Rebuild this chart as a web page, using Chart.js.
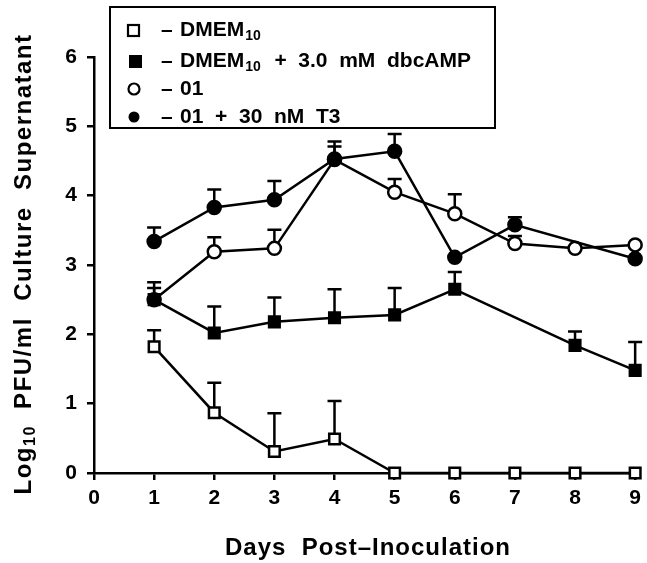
<!DOCTYPE html>
<html><head><meta charset="utf-8">
<script src="https://cdn.jsdelivr.net/npm/chart.js@4.4.1/dist/chart.umd.min.js"></script>
<style>html,body{margin:0;padding:0;background:#fff}#wrap{width:647px;height:563px}</style>
</head><body><div id="wrap"><canvas id="c" width="647" height="563"></canvas></div>
<script>
const days = [1,2,3,4,5,6,7,8,9];
const xTicks = [0,1,2,3,4,5,6,7,8,9];
const yTicks = [0,1,2,3,4,5,6];
const dmem    = [1.82,0.87,0.31,0.49,0,0,0,0,0];
const dmemErr = [2.06,1.30,0.86,1.04,null,null,null,null,null];
const dbc     = [2.50,2.02,2.18,2.24,2.28,2.65,null,1.84,1.48];
const dbcErr  = [2.75,2.40,2.53,2.65,2.67,2.90,null,2.04,1.89];
const o1      = [2.50,3.19,3.24,4.52,4.05,3.74,3.31,3.24,3.29];
const o1Err   = [2.67,3.40,3.51,4.71,4.24,4.02,3.42,null,null];
const t3      = [3.34,3.83,3.94,4.53,4.64,3.11,3.58,null,3.09];
const t3Err   = [3.54,4.09,4.21,4.78,4.89,null,3.69,null,null];
const labels = ['DMEM', 'DMEM', '01', '01  +  30  nM  T3'];
const FONT = '"Liberation Sans", Arial, sans-serif';

function pts(v){ return days.map((d,i)=>({x:d,y:v[i]})); }
function ds(label, v, err, style, filled, order){
  return {label, data: pts(v), err, borderColor:'#000', borderWidth:2.5,
    pointStyle: style, pointRadius: style==='rect'?7.5:6.5, pointBorderWidth:2.5,
    pointBackgroundColor: filled?'#000':'#fff', pointBorderColor:'#000',
    spanGaps:true, tension:0, clip:false, order};
}

const errPlugin = {
  id:'err',
  beforeDatasetsDraw(chart){
    const ctx = chart.ctx, xs = chart.scales.x, ys = chart.scales.y;
    ctx.save(); ctx.strokeStyle='#000'; ctx.lineWidth=2.5;
    chart.data.datasets.forEach(d=>{
      d.err.forEach((e,i)=>{
        if(e==null || d.data[i].y==null) return;
        const px = xs.getPixelForValue(days[i]);
        const py = ys.getPixelForValue(d.data[i].y);
        const pe = ys.getPixelForValue(e);
        ctx.beginPath(); ctx.moveTo(px,py); ctx.lineTo(px,pe);
        ctx.moveTo(px-7,pe); ctx.lineTo(px+7,pe); ctx.stroke();
      });
    });
    ctx.restore();
  },
  afterDraw(chart){
    const ctx = chart.ctx;
    ctx.save(); ctx.fillStyle='#000'; ctx.strokeStyle='#000';
    ctx.lineWidth=2;
    ctx.strokeRect(110,7,385,121);
    const rows=[30,61,89,117];
    const f = 'bold 21px '+FONT, fs='bold 14px '+FONT;
    ctx.textBaseline='middle';
    rows.forEach((y,i)=>{
      ctx.lineWidth=2.2;
      if(i<2){
        if(i===0){ctx.fillStyle='#fff';ctx.fillRect(128,y-5,11,11);ctx.strokeRect(128,y-5,11,11);} 
        else {ctx.fillStyle='#000';ctx.fillRect(129,y-6,13,13);} 
      } else {
        ctx.beginPath(); ctx.arc(134,y,5.5,0,Math.PI*2);
        if(i===3){ctx.fillStyle='#000';ctx.fill();} else {ctx.fillStyle='#fff';ctx.fill();ctx.stroke();}
      }
      ctx.fillStyle='#000';
      ctx.font=f; ctx.textAlign='left';
      ctx.fillText('–',161,y);
      let x=180;
      ctx.fillText(labels[i],x,y);
      if(i<2){
        x+=ctx.measureText(labels[i]).width+1;
        ctx.font=fs; ctx.fillText('10',x,y+6);
        x+=ctx.measureText('10').width;
        if(i===1){ ctx.font=f; ctx.fillText('  +  3.0  mM  dbcAMP',x+2,y); }
      }
    });
    ctx.font='bold 24px '+FONT; ctx.textAlign='center'; ctx.textBaseline='middle';
    ctx.letterSpacing='1px';
    ctx.fillText('Days  Post–Inoculation',368,548);
    ctx.translate(24,264); ctx.rotate(-Math.PI/2);
    ctx.letterSpacing='1.5px';
    const a='Log', b='10', c='  PFU/ml  Culture  Supernatant';
    ctx.font='bold 24px '+FONT; const wa=ctx.measureText(a).width, wc=ctx.measureText(c).width;
    ctx.font='bold 16px '+FONT; const wb=ctx.measureText(b).width;
    let x0=-(wa+wb+wc)/2;
    ctx.textAlign='left';
    ctx.font='bold 24px '+FONT; ctx.fillText(a,x0,0);
    ctx.font='bold 16px '+FONT; ctx.fillText(b,x0+wa,7);
    ctx.font='bold 24px '+FONT; ctx.fillText(c,x0+wa+wb,0);
    ctx.restore();
  }
};

new Chart(document.getElementById('c'),{
  type:'line',
  data:{datasets:[
    ds('DMEM10',dmem,dmemErr,'rect',false,1),
    ds('DMEM10 + 3.0 mM dbcAMP',dbc,dbcErr,'rect',true,2),
    ds('01',o1,o1Err,'circle',false,4),
    ds('01 + 30 nM T3',t3,t3Err,'circle',true,3)
  ]},
  options:{
    responsive:false, animation:false, events:[],
    layout:{padding:{left:0,right:10,top:57,bottom:0}},
    plugins:{legend:{display:false},tooltip:{enabled:false}},
    scales:{
      x:{type:'linear',min:0,max:9,z:1,
        afterBuildTicks:s=>{s.ticks=xTicks.map(v=>({value:v}));},
        afterFit:s=>{s.height=90;},
        grid:{drawOnChartArea:false,drawTicks:true,tickLength:7,color:'#000',lineWidth:2.5},
        border:{display:true,color:'#000',width:2.5},
        ticks:{color:'#000',font:{family:FONT,weight:'bold',size:21},padding:6,maxRotation:0}},
      y:{type:'linear',min:0,max:6,z:1,
        afterBuildTicks:s=>{s.ticks=yTicks.map(v=>({value:v}));},
        afterFit:s=>{s.width=94;},
        grid:{drawOnChartArea:false,drawTicks:true,tickLength:7,color:'#000',lineWidth:2.5},
        border:{display:true,color:'#000',width:2.5},
        ticks:{color:'#000',font:{family:FONT,weight:'bold',size:21},padding:10}}
    }
  },
  plugins:[errPlugin]
});
</script></body></html>
